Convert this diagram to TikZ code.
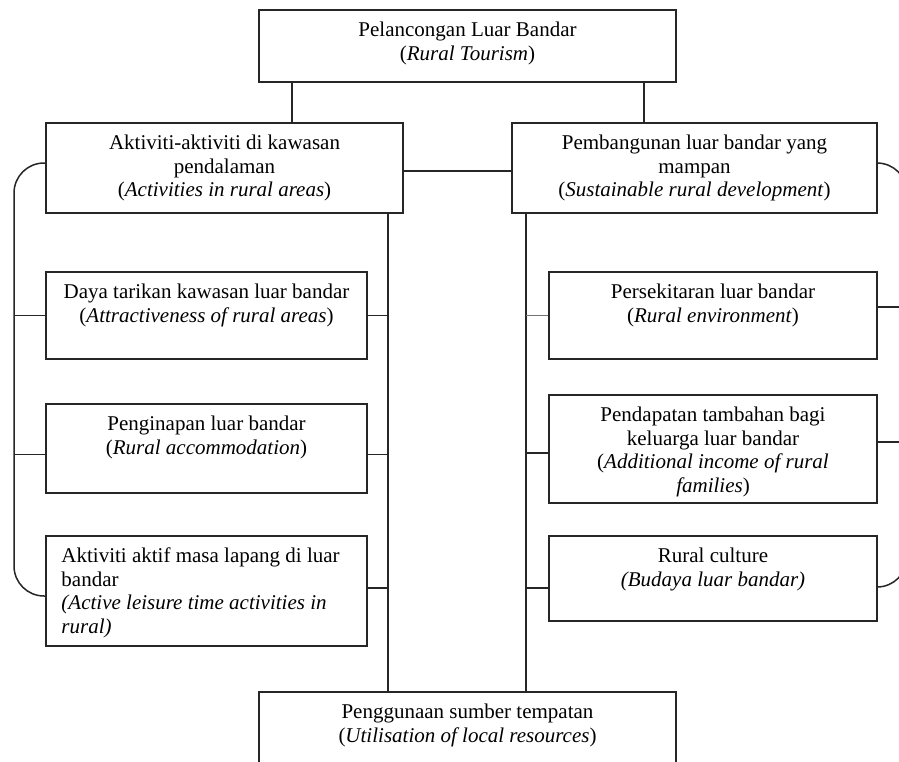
\documentclass[tikz,border=0pt]{standalone}
\usepackage{fontspec}
\setmainfont{Liberation Serif}
\newcommand\mystrut{\rule{0pt}{17pt}}
\begin{document}
\begin{tikzpicture}[x=1pt,y=-1pt,
  box/.style={draw=black!85, line width=1.5pt, inner sep=0pt},
  conn/.style={draw=black!85, line width=1.5pt},
  txt/.style={anchor=north, align=center, inner sep=0pt, font=\fontsize{21}{23.6}\selectfont},
  txtl/.style={txt, anchor=north west, align=left}]
\clip (0,0) rectangle (899,761);
\fill[white] (0,0) rectangle (899,761);
% boxes
\node[box, minimum width=417pt, minimum height=72pt] (top) at (467.5,46) {};
\node[box, minimum width=357pt, minimum height=90pt] (A) at (224.5,168) {};
\node[box, minimum width=365pt, minimum height=90pt] (B) at (694.5,168) {};
\node[box, minimum width=321pt, minimum height=87pt] (d1) at (206.5,315.5) {};
\node[box, minimum width=321pt, minimum height=89pt] (d2) at (206.5,448.5) {};
\node[box, minimum width=321pt, minimum height=110pt] (d3) at (206.5,591) {};
\node[box, minimum width=328pt, minimum height=87pt] (r1) at (713,315.5) {};
\node[box, minimum width=328pt, minimum height=108pt] (r2) at (713,449) {};
\node[box, minimum width=328pt, minimum height=85pt] (r3) at (713,578.5) {};
\node[box, minimum width=417pt, minimum height=100pt] (bot) at (467.5,742) {};
% texts
\node[txt] (topt) at ([yshift=-10pt]top.north) {\mystrut Pelancongan Luar Bandar\\(\textit{Rural Tourism})};
\node[txt] (At) at ([yshift=-10pt]A.north) {\mystrut Aktiviti-aktiviti di kawasan\\pendalaman\\(\textit{Activities in rural areas})};
\node[txt] (Bt) at ([yshift=-10pt]B.north) {\mystrut Pembangunan luar bandar yang\\mampan\\(\textit{Sustainable rural development})};
\node[txt] (d1t) at ([yshift=-10pt]d1.north) {\mystrut Daya tarikan kawasan luar bandar\\(\textit{Attractiveness of rural areas})};
\node[txt] (d2t) at ([yshift=-10pt]d2.north) {\mystrut Penginapan luar bandar\\(\textit{Rural accommodation})};
\node[txtl] (d3t) at ([xshift=16pt,yshift=-10pt]d3.north west) {\mystrut Aktiviti aktif masa lapang di luar\\bandar\\\textit{(Active leisure time activities in}\\\textit{rural)}};
\node[txt] (r1t) at ([yshift=-10pt]r1.north) {\mystrut Persekitaran luar bandar\\(\textit{Rural environment})};
\node[txt] (r2t) at ([yshift=-10pt]r2.north) {\mystrut Pendapatan tambahan bagi\\keluarga luar bandar\\(\textit{Additional income of rural}\\\textit{families})};
\node[txt] (r3t) at ([yshift=-10pt]r3.north) {\mystrut Rural culture\\\textit{(Budaya luar bandar)}};
\node[txt] (bott) at ([yshift=-10pt]bot.north) {\mystrut Penggunaan sumber tempatan\\(\textit{Utilisation of local resources})};
% helper coordinates
\coordinate (t1) at (292,0);
\coordinate (t2) at (644,0);
\coordinate (lbus) at (388,400);
\coordinate (rbus) at (526,400);
\coordinate (lbr) at (14,400);
\coordinate (rbr) at (907,400);
% connectors
\draw[conn] (top.south -| t1) -- (A.north -| t1);
\draw[conn] (top.south -| t2) -- (B.north -| t2);
\draw[conn] ([yshift=-3pt]A.east) -- ([yshift=-3pt]B.west);
\draw[conn] (A.south -| lbus) -- (bot.north -| lbus);
\draw[conn] (B.south -| rbus) -- (bot.north -| rbus);
\draw[conn] (d1.east) -- (d1.east -| lbus);
\draw[conn] ([yshift=-6pt]d2.east) -- ([yshift=-6pt]d2.east -| lbus);
\draw[conn] ([yshift=3pt]d3.east) -- ([yshift=3pt]d3.east -| lbus);
\draw[conn] (d1.west) -- (d1.west -| lbr);
\draw[conn] ([yshift=-6pt]d2.west) -- ([yshift=-6pt]d2.west -| lbr);
\draw[conn, rounded corners=30pt] ([yshift=5pt]A.west) -| (lbr) |- ([yshift=-5pt]d3.west);
\draw[conn, draw=black!55] (r1.west) -- (r1.west -| rbus);
\draw[conn] ([yshift=-4pt]r2.west) -- ([yshift=-4pt]r2.west -| rbus);
\draw[conn] ([yshift=-9.5pt]r3.west) -- ([yshift=-9.5pt]r3.west -| rbus);
\draw[conn] ([yshift=8.5pt]r1.east) -- ([yshift=8.5pt]r1.east -| rbr);
\draw[conn] ([yshift=7pt]r2.east) -- ([yshift=7pt]r2.east -| rbr);
\draw[conn, rounded corners=30pt] ([yshift=5pt]B.east) -| (rbr) |- ([yshift=-8.5pt]r3.east);
\end{tikzpicture}
\end{document}
